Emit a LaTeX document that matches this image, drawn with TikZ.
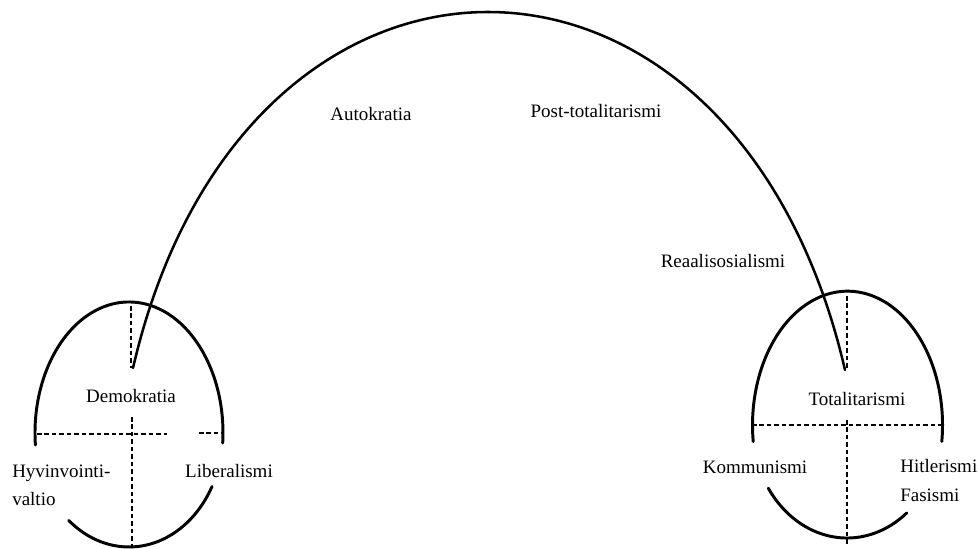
\documentclass[tikz,border=0pt]{standalone}
\usepackage{fontspec}
\setmainfont{Liberation Serif}
\usepackage{xcolor}

\begin{document}
\begin{tikzpicture}[x=0.025cm, y=-0.025cm,
  lbl/.style={inner sep=0pt, font=\fontsize{13.5pt}{19.9pt}\selectfont},
  lbltwo/.style={lbl, align=left, anchor=north west},
  rim/.style={line width=2.1pt, draw=black, line cap=round},
  span/.style={line width=1.8pt, draw=black, line cap=round},
  split/.style={line width=1pt, draw=black, dash pattern=on 3.2pt off 2.1pt}
]
\useasboundingbox (0,0) rectangle (978,548);
% left oval
\draw[rim] (222.7,443) arc[start angle=4.4, end angle=-185.3, x radius=94, y radius=131];
\draw[rim] (68.6,520.3) arc[start angle=130, end angle=28, x radius=94, y radius=114];
\draw[split] (131,306) -- (131,368);
\draw[split] (132,417) -- (132,547);
\draw[split] (37,434) -- (167,434);
\draw[split] (199,433) -- (223,433);
% right oval
\draw[rim] (941.8,441.5) arc[start angle=7, end angle=-187, x radius=95, y radius=134];
\draw[rim] (768.3,488.2) arc[start angle=146, end angle=51, x radius=95, y radius=113];
\draw[split] (847,296) -- (847,370);
\draw[split] (847,420) -- (847,545);
\draw[split] (752,425) -- (942,425);
% arc ends
\coordinate (demo) at (133,368);
\coordinate (tota) at (845,370);
\draw[span] (demo) .. controls (243,-108) and (735,-106) .. (tota);
% labels
\node[lbl, anchor=base] (autok) at (371,120) {Autokratia};
\node[lbl, anchor=base] (posttot) at (596,117) {Post-totalitarismi};
\node[lbl, anchor=base] (reaal) at (723,267) {Reaalisosialismi};
\node[lbl, anchor=base] (demok) at (131,402) {Demokratia};
\node[lbl, anchor=base] (totalit) at (857,405) {Totalitarismi};
\node[lbl, anchor=base] (liber) at (229,477) {Liberalismi};
\node[lbl, anchor=base] (kommun) at (755,473) {Kommunismi};
\node[lbltwo] (hyvin) at (12,465) {Hyvinvointi-\\valtio};
\node[lbltwo, font=\fontsize{13.5pt}{20.6pt}\selectfont] (hitler) at (900,459) {Hitlerismi\\Fasismi};
\end{tikzpicture}
\end{document}
